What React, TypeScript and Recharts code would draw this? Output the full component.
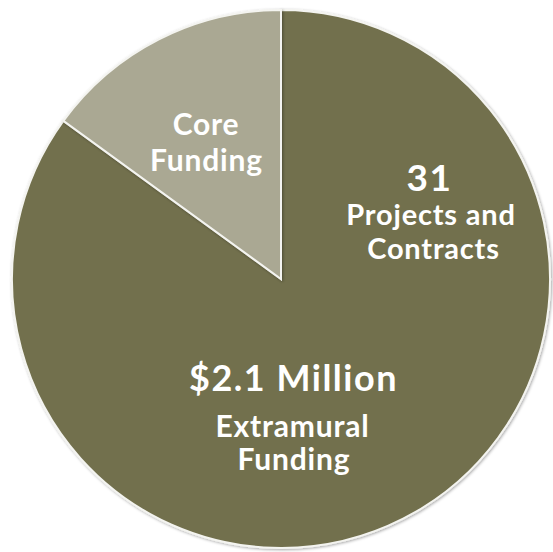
import { PieChart, Pie, Cell } from "recharts";

const categories = ["Extramural Funding", "Core Funding"];
const shares = [85, 15];
const colors = ["#72704d", "#aaa893"];

const data = categories.map((name, i) => ({ name, value: shares[i] }));

// text drawn over each slice: [text, dx from centre, baseline dy from centre, size]
const sliceLabels: [string, number, number, number][][] = [
  [
    ["31", 148.5, -88, 37],
    ["Projects and", 150, -54, 29],
    ["Contracts", 152.5, -20, 29],
    ["$2.1 Million", 12.5, 112, 36],
    ["Extramural", 11.5, 158, 30],
    ["Funding", 13, 191, 30],
  ],
  [
    ["Core", -75, -144, 30],
    ["Funding", -74.5, -108, 30],
  ],
];

const CX = 281;
const CY = 279;

const renderLabel = (props: any) => {
  const lines = sliceLabels[props.index] || [];
  const cx = Number(props.cx);
  const cy = Number(props.cy);
  return (
    <g key={`lbl-${props.index}`}>
      {lines.map(([t, dx, dy, s], i) => (
        <text
          key={i}
          x={cx + dx}
          y={cy + dy}
          fontSize={s}
          fontFamily="Lato, sans-serif"
          fontWeight={700}
          letterSpacing={s > 33 ? 1.5 : 0.8}
          fill="#ffffff"
          textAnchor="middle"
        >
          {t}
        </text>
      ))}
    </g>
  );
};

export default function App() {
  return (
    <div style={{ position: "absolute", left: 0, top: 0 }}>
      <PieChart width={553} height={552} margin={{ top: 0, right: 0, bottom: 0, left: 0 }}>
        <defs>
          <filter id="edge" x="-10%" y="-10%" width="120%" height="120%">
            <feDropShadow dx="1" dy="1" stdDeviation="1.5" floodColor="#000" floodOpacity="0.35" />
          </filter>
        </defs>
        <Pie
          data={data}
          dataKey="value"
          nameKey="name"
          cx={CX}
          cy={CY}
          outerRadius={269}
          startAngle={90}
          endAngle={-270}
          stroke="#f4f4f0"
          strokeWidth={2}
          isAnimationActive={false}
          labelLine={false}
          label={renderLabel}
          style={{ filter: "url(#edge)" }}
        >
          {data.map((d, i) => (
            <Cell key={d.name} fill={colors[i]} />
          ))}
        </Pie>
      </PieChart>
    </div>
  );
}
